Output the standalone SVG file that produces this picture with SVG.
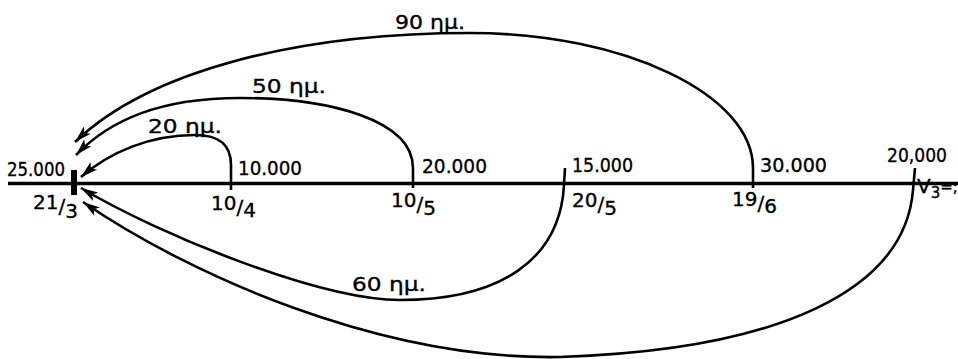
<svg xmlns="http://www.w3.org/2000/svg" width="958" height="359" viewBox="0 0 958 359">
<style>
text{font-family:"DejaVu Sans","Liberation Sans",sans-serif;font-size:20px;fill:#000;stroke:#000;stroke-width:0.35}
.c{fill:none;stroke:#000;stroke-width:2.6}
</style>
<defs>
<marker id="ah" markerUnits="userSpaceOnUse" markerWidth="18" markerHeight="12" viewBox="0 0 18 12" refX="17" refY="6" orient="auto">
<path d="M0,1 L17,6 L0,11 L4,6 Z" fill="#000"/>
</marker>
</defs>
<rect width="958" height="359" fill="#fff"/>
<line x1="8" y1="183.5" x2="958" y2="183.5" stroke="#000" stroke-width="3.5"/>
<g id="n2103">
<rect x="71" y="170" width="6" height="25" fill="#000"/>
<text x="7" y="176" textLength="58" lengthAdjust="spacingAndGlyphs">25.000</text>
<text x="33" y="209">21<tspan dy="4">/</tspan><tspan dy="5">3</tspan></text>
</g>
<g id="n1004">
<text x="238" y="175" textLength="64" lengthAdjust="spacingAndGlyphs">10.000</text>
<text x="211" y="210">10<tspan dy="4">/</tspan><tspan dy="3">4</tspan></text>
</g>
<g id="n1005">
<text x="422" y="173" textLength="65" lengthAdjust="spacingAndGlyphs">20.000</text>
<text x="391" y="207">10<tspan dy="4">/</tspan><tspan dy="4">5</tspan></text>
</g>
<g id="n2005">
<text x="572" y="172" textLength="61" lengthAdjust="spacingAndGlyphs">15.000</text>
<text x="572" y="207">20<tspan dy="4">/</tspan><tspan dy="4">5</tspan></text>
</g>
<g id="n1906">
<text x="760" y="172" textLength="67" lengthAdjust="spacingAndGlyphs">30.000</text>
<text x="732" y="206">19<tspan dy="4">/</tspan><tspan dy="3">6</tspan></text>
</g>
<g id="nV3">
<text x="887" y="162" textLength="60" lengthAdjust="spacingAndGlyphs">20,000</text>
<text x="917" y="193">V<tspan font-size="15" dy="5">3</tspan><tspan font-size="15" dy="-6">=;</tspan></text>
</g>
<g id="connectors">
<path class="c" marker-end="url(#ah)" d="M231,190 L231,165 C231,145 220,135 195,135 C150,135 110,152 81,177"/>
<path class="c" marker-end="url(#ah)" d="M413,188 L413,168 C413,120 330,98 240,98 C160,98 110,120 76,155"/>
<path class="c" marker-end="url(#ah)" d="M753,188 L753,168 C753,95 625,33 470,33 C300,33 150,70 75,142"/>
<path class="c" marker-end="url(#ah)" d="M565,168 L564,185 C560,260 500,300 400,300 C320,300 160,235 81,188"/>
<path class="c" marker-end="url(#ah)" d="M915,168 L913,190 C905,290 780,350 560,357 C380,360 190,275 83,202"/>
<text x="148" y="133" textLength="74" lengthAdjust="spacingAndGlyphs">20 ημ.</text>
<text x="252" y="93" textLength="74" lengthAdjust="spacingAndGlyphs">50 ημ.</text>
<text x="395" y="29" textLength="70" lengthAdjust="spacingAndGlyphs">90 ημ.</text>
<text x="352" y="291" textLength="74" lengthAdjust="spacingAndGlyphs">60 ημ.</text>
</g>
</svg>
